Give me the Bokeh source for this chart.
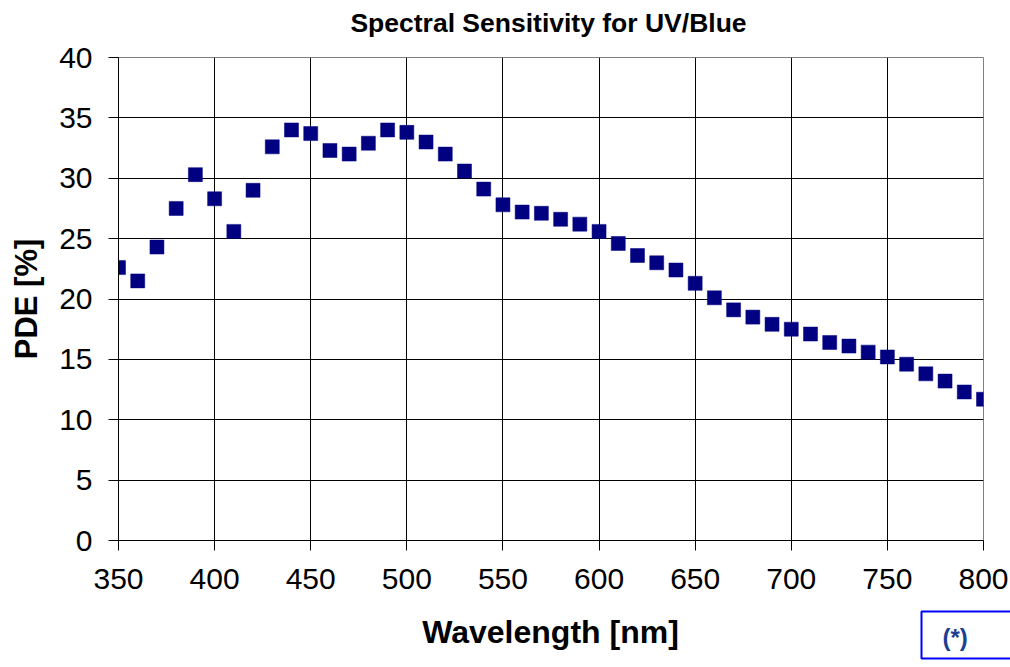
from bokeh.plotting import figure
from bokeh.layouts import column
from bokeh.models import Range1d, SingleIntervalTicker, Label, ColumnDataSource
from bokeh.embed import file_html
from bokeh.resources import INLINE

wavelength = [350, 360, 370, 380, 390, 400, 410, 420, 430, 440, 450, 460, 470, 480, 490,
              500, 510, 520, 530, 540, 550, 560, 570, 580, 590, 600, 610, 620, 630, 640,
              650, 660, 670, 680, 690, 700, 710, 720, 730, 740, 750, 760, 770, 780, 790, 800]
pde = [22.6, 21.5, 24.3, 27.5, 30.3, 28.3, 25.6, 29.0, 32.6, 34.0, 33.7, 32.3, 32.0, 32.9, 34.0,
       33.8, 33.0, 32.0, 30.6, 29.1, 27.8, 27.2, 27.1, 26.6, 26.2, 25.6, 24.6, 23.6, 23.0, 22.4,
       21.3, 20.1, 19.1, 18.5, 17.9, 17.5, 17.1, 16.4, 16.1, 15.6, 15.2, 14.6, 13.8, 13.2, 12.3, 11.7]

TITLE = "Spectral Sensitivity for UV/Blue"
XLABEL = "Wavelength [nm]"
YLABEL = "PDE [%]"
NOTE = "(*)"

FONT = "Liberation Sans"
W = 1010
TOP_H = 40
BOT_H = 62
MAIN_H = 667 - TOP_H - BOT_H


def strip(height):
    f = figure(width=W, height=height, output_backend="svg", toolbar_location=None,
               x_range=Range1d(0, W), y_range=Range1d(0, height),
               x_axis_type=None, y_axis_type=None, min_border=0)
    f.outline_line_color = None
    f.grid.visible = False
    f.frame_align = False
    return f


# --- title strip ---
t = strip(TOP_H)
t.add_layout(Label(x=548, y=TOP_H - 22, text=TITLE, text_font=FONT, text_font_size="26.5px",
                   text_font_style="bold", text_color="#000000",
                   text_align="center", text_baseline="middle"))

# --- main plot ---
p = figure(width=W, height=MAIN_H, output_backend="svg", toolbar_location=None,
           x_range=Range1d(350, 800), y_range=Range1d(0, 40),
           min_border_left=118, min_border_right=27, min_border_top=57 - TOP_H,
           min_border_bottom=MAIN_H - (540 - TOP_H))
p.frame_align = False

p.outline_line_color = "#808080"
p.outline_line_width = 1

src = ColumnDataSource(dict(x=wavelength, y=pde))
p.scatter("x", "y", source=src, marker="square", size=14, fill_color="#000080",
          line_color="#000080", line_width=0.5)

p.xaxis.ticker = SingleIntervalTicker(interval=50)
p.yaxis.ticker = SingleIntervalTicker(interval=5)
for ax in (p.xaxis, p.yaxis):
    ax.major_label_text_font = FONT
    ax.major_label_text_font_size = "30px"
    ax.major_label_text_color = "#000000"
    ax.axis_label_text_font = FONT
    ax.axis_label_text_font_size = "31px"
    ax.axis_label_text_font_style = "bold"
    ax.axis_label_text_color = "#000000"
    ax.major_tick_in = 0
    ax.major_tick_out = 10
    ax.minor_tick_in = 0
    ax.minor_tick_out = 0
    ax.axis_line_color = "#000000"
    ax.major_tick_line_color = "#000000"

p.yaxis.axis_label = YLABEL
p.xaxis.major_label_standoff = 18
p.yaxis.major_label_standoff = 16
p.yaxis.axis_label_standoff = 12

p.xgrid.grid_line_color = "#000000"
p.ygrid.grid_line_color = "#000000"
p.xgrid.grid_line_width = 1
p.ygrid.grid_line_width = 1

# --- bottom strip: x-axis title and the (*) note box ---
q = strip(BOT_H)
q.add_layout(Label(x=550, y=BOT_H - 26, text=XLABEL, text_font=FONT, text_font_size="32px",
                   text_font_style="bold", text_color="#000000",
                   text_align="center", text_baseline="middle"))
# padding order here is (left, right, top, bottom)
q.add_layout(Label(x=921, y=BOT_H - 6, text=NOTE, text_font=FONT, text_font_size="24px",
                   text_font_style="bold", text_color="#1c3f94",
                   text_align="left", text_baseline="top", anchor="top_left",
                   border_line_color="#0000ff", border_line_width=2,
                   background_fill_color="#ffffff", padding=(21, 44, 12, 8)))

layout = column(t, p, q, spacing=0)
open("out.html", "w").write(file_html(layout, INLINE))
